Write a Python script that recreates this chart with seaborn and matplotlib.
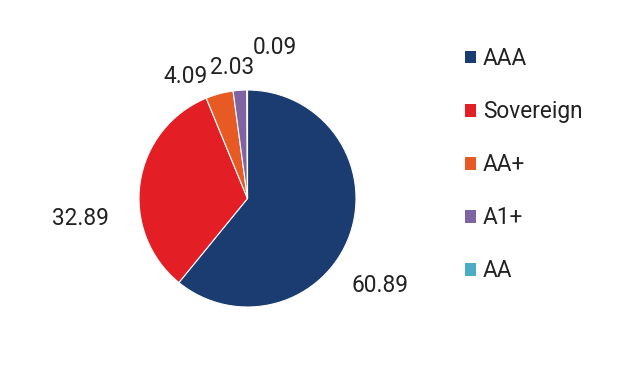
import matplotlib
matplotlib.use("Agg")
import matplotlib.pyplot as plt
import seaborn as sns
from matplotlib.patches import Patch

categories = ["AAA", "Sovereign", "AA+", "A1+", "AA"]
values = [60.89, 32.89, 4.09, 2.03, 0.09]
value_labels = ["60.89", "32.89", "4.09", "2.03", "0.09"]
colors = ["#1a3c70", "#e31e24", "#e85a24", "#8064a2", "#4bacc6"]

sns.set_theme(style="white")
plt.rcParams["font.family"] = ["Roboto", "DejaVu Sans"]

fig = plt.figure(figsize=(6.19, 3.71), dpi=100)
ax = fig.add_axes([139 / 619, 64 / 371, 217 / 619, 217 / 371])
pal = sns.color_palette(colors)
wedges, texts = ax.pie(values, colors=pal, startangle=90, counterclock=False,
                       labels=value_labels, labeldistance=1.3,
                       wedgeprops=dict(edgecolor="white", linewidth=0.8),
                       textprops=dict(fontsize=16.3, color="#222222"))
ax.set_aspect("equal")
ax.set_xlim(-1, 1)
ax.set_ylim(-1, 1)

# label placement (outside labels, like the source chart)
label_pos = [(1.225, -0.80), (-1.54, -0.185), (-0.57, 1.125), (-0.14, 1.21), (0.25, 1.39)]
for t, p in zip(texts, label_pos):
    t.set_position(p)
    t.set_ha("center")
    t.set_va("center")
    t.set_clip_on(False)

handles = [Patch(facecolor=c, edgecolor="none") for c in pal]
fig.legend(handles, categories, loc="upper left", bbox_to_anchor=(465 / 619, 1 - 47 / 371),
           frameon=False, fontsize=16.3, handlelength=0.5, handleheight=0.5,
           handletextpad=0.28, labelspacing=1.33, borderpad=0, borderaxespad=0,
           labelcolor="#222222")

fig.savefig("out.png", dpi=100)
